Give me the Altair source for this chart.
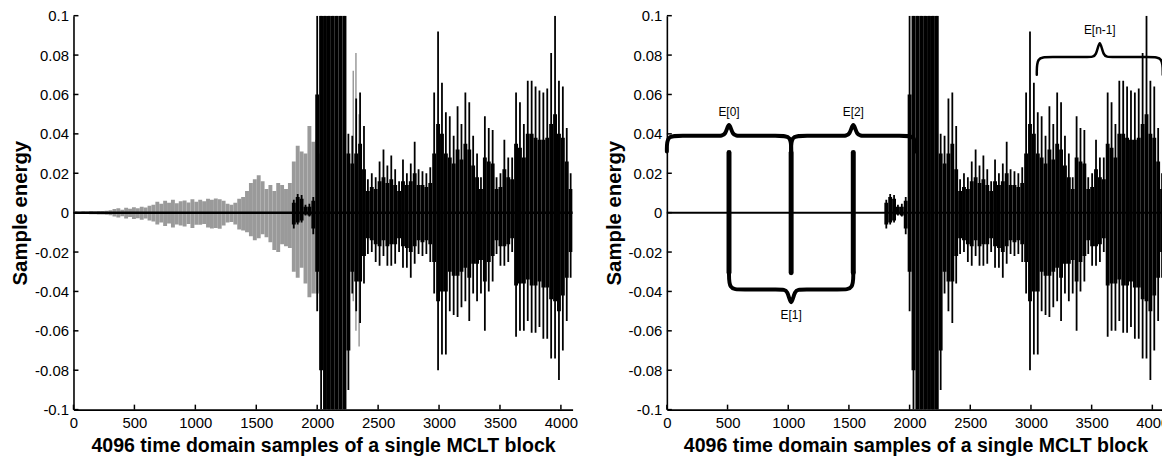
import altair as alt
import pandas as pd

BIN = 32
FONT = "Liberation Sans"

# ---- grey (original) signal of the left panel: envelope per 32-sample bin, from sample 0
GRAY_HI = [0.0006, 0.0005, 0.0007, 0.0006, 0.0008, 0.0007, 0.0009, 0.0008, 0.0010, 0.0012,
           0.0018, 0.0022, 0.0015, 0.0025, 0.0020, 0.0028, 0.0022, 0.0030, 0.0026, 0.0035,
           0.0040, 0.0055, 0.0045, 0.0060, 0.0050, 0.0065, 0.0048, 0.0058, 0.0062, 0.0052, 0.0068, 0.0055,
           0.0065, 0.0058, 0.0070, 0.0066, 0.0072, 0.0068, 0.0060, 0.0045, 0.0040, 0.0050, 0.0070, 0.0080, 0.0110,
           0.0150, 0.0170, 0.0190, 0.0160, 0.0120, 0.0140,
           0.0110, 0.0150, 0.0140, 0.0120, 0.0150,
           0.0260, 0.0340, 0.0310, 0.0300, 0.0440, 0.0360, 0.0370, 0.0300]
GRAY_LO = [-0.0006, -0.0006, -0.0007, -0.0006, -0.0008, -0.0008, -0.0009, -0.0009, -0.0011, -0.0013,
           -0.0020, -0.0025, -0.0018, -0.0030, -0.0022, -0.0032, -0.0028, -0.0036, -0.0030, -0.0040,
           -0.0045, -0.0060, -0.0050, -0.0068, -0.0055, -0.0075, -0.0060, -0.0065, -0.0070, -0.0058, -0.0078, -0.0062,
           -0.0062, -0.0058, -0.0075, -0.0080, -0.0078, -0.0082, -0.0065, -0.0050, -0.0048, -0.0060, -0.0085, -0.0090, -0.0100,
           -0.0120, -0.0140, -0.0130, -0.0110, -0.0125, -0.0150,
           -0.0190, -0.0200, -0.0160, -0.0170, -0.0180,
           -0.0300, -0.0330, -0.0280, -0.0360, -0.0430, -0.0410, -0.0410, -0.0400]
# a few isolated grey (original-signal) strokes that show beside the black burst
GRAY_SPIKE_X = [2296, 2318, 2344]
GRAY_SPIKE_HI = [0.072, 0.081, 0.05]
GRAY_SPIKE_LO = [-0.045, -0.06, -0.068]

# ---- black (shared) signal: per 32-sample bin from sample 1792; peak and dense-core envelopes
SIG_START = 1792
SIG_HI = [0.0065, 0.0095, 0.0090, 0.0040, 0.0045, 0.0080,
          0.1, 0.1, 0.1, 0.1, 0.1, 0.1, 0.1, 0.1,
          0.040, 0.039, 0.058, 0.061, 0.044,
          0.017, 0.020, 0.018, 0.026, 0.032, 0.024, 0.029, 0.022,
          0.016, 0.027, 0.020, 0.025, 0.036, 0.022, 0.021, 0.020, 0.023,
          0.061, 0.092, 0.066, 0.051, 0.049, 0.039, 0.054, 0.045, 0.061, 0.056, 0.039, 0.030, 0.018, 0.049,
          0.043, 0.042, 0.018, 0.020, 0.037, 0.028, 0.028,
          0.061, 0.056, 0.045, 0.067, 0.067, 0.064, 0.062, 0.061, 0.063, 0.081, 0.100, 0.067, 0.064, 0.043, 0.020]
SIG_LO = [-0.008, -0.006, -0.005, -0.0015, -0.002, -0.011,
          -0.05, -0.1, -0.1, -0.1, -0.1, -0.1, -0.1, -0.1,
          -0.090, -0.041, -0.050, -0.056, -0.036,
          -0.021, -0.020, -0.025, -0.027, -0.022, -0.027, -0.027, -0.026,
          -0.020, -0.028, -0.028, -0.033, -0.026, -0.021, -0.022, -0.021, -0.025,
          -0.041, -0.080, -0.072, -0.072, -0.050, -0.052, -0.053, -0.048, -0.045, -0.055, -0.041, -0.045, -0.041, -0.060,
          -0.040, -0.035, -0.021, -0.027, -0.027, -0.025, -0.020,
          -0.063, -0.060, -0.060, -0.055, -0.061, -0.061, -0.058, -0.064, -0.064, -0.074, -0.074, -0.085, -0.070, -0.055, -0.033]
CORE_HI = [0.005, 0.008, 0.007, 0.003, 0.003, 0.006,
           0.06, 0.1, 0.1, 0.1, 0.1, 0.1, 0.1, 0.1,
           0.030, 0.025, 0.030, 0.035, 0.022,
           0.011, 0.013, 0.012, 0.016, 0.018, 0.015, 0.017, 0.014,
           0.011, 0.016, 0.014, 0.016, 0.020, 0.014, 0.014, 0.013, 0.015,
           0.030, 0.045, 0.040, 0.030, 0.028, 0.025, 0.032, 0.027, 0.035, 0.032, 0.024, 0.018, 0.012, 0.028,
           0.026, 0.025, 0.012, 0.013, 0.022, 0.018, 0.017,
           0.035, 0.033, 0.028, 0.040, 0.040, 0.038, 0.037, 0.037, 0.038, 0.045, 0.050, 0.040, 0.038, 0.026, 0.012]
CORE_LO = [-0.006, -0.005, -0.004, -0.001, -0.0015, -0.008,
           -0.03, -0.08, -0.1, -0.1, -0.1, -0.1, -0.1, -0.1,
           -0.070, -0.030, -0.035, -0.035, -0.022,
           -0.013, -0.014, -0.016, -0.017, -0.014, -0.017, -0.016, -0.016,
           -0.013, -0.017, -0.018, -0.020, -0.017, -0.014, -0.015, -0.014, -0.016,
           -0.025, -0.045, -0.040, -0.040, -0.030, -0.032, -0.032, -0.030, -0.028, -0.033, -0.026, -0.026, -0.024, -0.035,
           -0.025, -0.022, -0.014, -0.017, -0.017, -0.016, -0.013,
           -0.037, -0.036, -0.036, -0.034, -0.037, -0.037, -0.035, -0.038, -0.038, -0.044, -0.045, -0.050, -0.042, -0.033, -0.020]

# ---- right panel annotations
IMPULSE_X = [512, 1024, 1536]
IMPULSE_TOP = 0.0305
IMPULSE_BOTTOM = -0.0305

BRACE_LABELS = ["E[0]", "E[2]", "E[1]", "E[n-1]"]
BRACE_START = [0, 1024, 512, 3048]
BRACE_END = [1024, 2048, 1536, 4086]
BRACE_LEVEL = [0.039, 0.039, -0.039, 0.079]
BRACE_ARM = [0.031, 0.031, -0.030, 0.070]
BRACE_TIP = [0.0445, 0.0445, -0.0455, 0.086]
BRACE_LABEL_Y = [0.051, 0.051, -0.052, 0.0925]
BRACE_STROKE = [4, 4, 4, 2.5]

X_TICKS = [0, 500, 1000, 1500, 2000, 2500, 3000, 3500, 4000]
Y_TICKS = [-0.1, -0.08, -0.06, -0.04, -0.02, 0, 0.02, 0.04, 0.06, 0.08, 0.1]
X_TITLE = "4096 time domain samples of a single MCLT block"
Y_TITLE = "Sample energy"

H = 397
W_LEFT = 503
W_RIGHT = 501

# ---------------- tables
gray = pd.DataFrame({"s0": [i * BIN for i in range(len(GRAY_HI))],
                     "hi": GRAY_HI, "lo": GRAY_LO})
gray["s1"] = gray["s0"] + BIN
gspk = pd.DataFrame({"x": GRAY_SPIKE_X, "hi": GRAY_SPIKE_HI, "lo": GRAY_SPIKE_LO})

sig = pd.DataFrame({"s0": [SIG_START + i * BIN for i in range(len(SIG_HI))],
                    "hi": SIG_HI, "lo": SIG_LO, "chi": CORE_HI, "clo": CORE_LO})
sig["s1"] = sig["s0"] + BIN
sig["mid"] = sig["s0"] + BIN / 2

base = pd.DataFrame({"a": [0], "b": [4096], "y": [0.0]})
xt = pd.DataFrame({"x": X_TICKS})
yt = pd.DataFrame({"y": Y_TICKS})
imp = pd.DataFrame({"x": IMPULSE_X, "top": [IMPULSE_TOP] * 3, "bot": [IMPULSE_BOTTOM] * 3})

rows = []
for i, lab in enumerate(BRACE_LABELS):
    a, b = BRACE_START[i], BRACE_END[i]
    L, E, T = BRACE_LEVEL[i], BRACE_ARM[i], BRACE_TIP[i]
    m = (a + b) / 2
    c, t = 90, 80
    tc = L + 1.5 * (T - L)
    pts = [(a, E), (a, L), (a + c, L), (m - t, L), (m - 0.35 * t, L), (m, tc),
           (m + 0.35 * t, L), (m + t, L), (b - c, L), (b, L), (b, E)]
    for k, (px, py) in enumerate(pts):
        rows.append({"lab": lab, "i": k, "x": px, "y": py, "w": BRACE_STROKE[i]})
braces = pd.DataFrame(rows)
blabels = pd.DataFrame({"lab": BRACE_LABELS,
                        "x": [(a + b) / 2 for a, b in zip(BRACE_START, BRACE_END)],
                        "y": BRACE_LABEL_Y})

# ---------------- scales / axes
xs = alt.Scale(domain=[0, 4096], nice=False, zero=False)
ys = alt.Scale(domain=[-0.1, 0.1], nice=False, zero=False)

x_axis = alt.Axis(values=X_TICKS, format="d", title=X_TITLE, grid=False, ticks=False,
                  labelPadding=6, titlePadding=5, labelFontSize=15, labelFont=FONT,
                  titleFont=FONT, titleFontSize=19.7, titleFontWeight="bold",
                  labelColor="black", titleColor="black", domainColor="black",
                  domainWidth=1.6, labelFlush=False)
y_axis = alt.Axis(values=Y_TICKS, title=Y_TITLE, grid=False, ticks=False,
                  labelExpr="datum.value == 0 ? '0' : toString(round(datum.value * 100) / 100)",
                  labelPadding=5, titlePadding=4, labelFontSize=15, labelFont=FONT,
                  titleFont=FONT, titleFontSize=20.5, titleFontWeight="bold",
                  labelColor="black", titleColor="black", domainColor="black",
                  domainWidth=1.6, labelFlush=False)


def X(field):
    return alt.X(field, scale=xs, axis=x_axis, title=X_TITLE)


def Y(field):
    return alt.Y(field, scale=ys, axis=y_axis, title=Y_TITLE)


def signal_layers():
    core = alt.Chart(sig).mark_rect(color="black", clip=True).encode(
        x=X("s0:Q"), x2="s1:Q", y=Y("clo:Q"), y2="chi:Q")
    spikes = alt.Chart(sig).mark_rule(color="black", strokeWidth=1.8, clip=True).encode(
        x=X("mid:Q"), y=Y("lo:Q"), y2="hi:Q")
    return core, spikes


def ticks_layers(h):
    xtk = alt.Chart(xt).mark_rule(color="black", strokeWidth=1.5).encode(
        x=X("x:Q"), y=alt.value(h), y2=alt.value(h - 5))
    ytk = alt.Chart(yt).mark_rule(color="black", strokeWidth=1.5).encode(
        y=Y("y:Q"), x=alt.value(0), x2=alt.value(5))
    return xtk, ytk


def baseline(width):
    return alt.Chart(base).mark_rule(color="black", strokeWidth=width).encode(
        x=X("a:Q"), x2="b:Q", y=Y("y:Q"))


# ---------------- left panel
gray_l = alt.Chart(gray).mark_rect(color="#9a9a9a", clip=True).encode(
    x=X("s0:Q"), x2="s1:Q", y=Y("lo:Q"), y2="hi:Q")
gray_spk = alt.Chart(gspk).mark_rule(color="#9a9a9a", strokeWidth=1.5, clip=True).encode(
    x=X("x:Q"), y=Y("lo:Q"), y2="hi:Q")
core_l, spikes_l = signal_layers()
xtk_l, ytk_l = ticks_layers(H)
left = alt.layer(gray_spk, gray_l, baseline(2.5), core_l, spikes_l, xtk_l, ytk_l).properties(
    width=W_LEFT, height=H)

# ---------------- right panel
core_r, spikes_r = signal_layers()
xtk_r, ytk_r = ticks_layers(H)
impulses = alt.Chart(imp).mark_rule(color="black", strokeWidth=5, strokeCap="round").encode(
    x=X("x:Q"), y=Y("bot:Q"), y2="top:Q")
brace_lines = alt.Chart(braces).mark_line(color="black", interpolate="basis",
                                          strokeCap="round", strokeJoin="round").encode(
    x=X("x:Q"), y=Y("y:Q"),
    detail="lab:N", order="i:Q",
    strokeWidth=alt.StrokeWidth("w:Q", scale=None, legend=None))
brace_text = alt.Chart(blabels).mark_text(font=FONT, fontSize=12, color="black",
                                          baseline="middle", align="center").encode(
    x=X("x:Q"), y=Y("y:Q"), text="lab:N")
right = alt.layer(core_r, baseline(2), spikes_r, impulses, brace_lines, brace_text,
                  xtk_r, ytk_r).properties(width=W_RIGHT, height=H)

chart = alt.hconcat(left, right, spacing=26).properties(
    padding={"left": 2, "top": -1, "right": -7, "bottom": -1},
    background="white"
).configure_view(strokeWidth=0)

chart.save("out.html", embed_options={"renderer": "svg", "actions": False})
